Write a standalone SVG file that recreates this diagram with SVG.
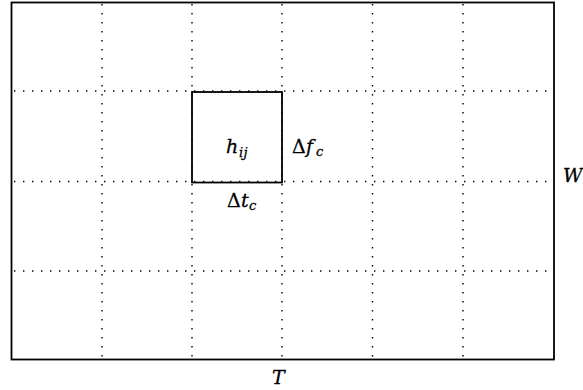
<svg xmlns="http://www.w3.org/2000/svg" width="583" height="390" viewBox="0 0 583 390">
<style>
.dot{stroke:#000;stroke-width:1.4;stroke-dasharray:1.4 7.6;fill:none}
.solid{stroke:#000;stroke-width:1.8;fill:none}
text{font-family:"DejaVu Serif","Liberation Serif",serif;font-size:19px;fill:#000;stroke:#000;stroke-width:0.3}
.it{font-style:italic}
.sub{font-size:13px;font-style:italic}
</style>
<rect width="583" height="390" fill="#fff"/>
<g id="grid">
<line class="dot" x1="102" y1="4" x2="102" y2="359"/>
<line class="dot" x1="192" y1="4" x2="192" y2="359"/>
<line class="dot" x1="282" y1="4" x2="282" y2="359"/>
<line class="dot" x1="372.5" y1="4" x2="372.5" y2="359"/>
<line class="dot" x1="463" y1="4" x2="463" y2="359"/>
<line class="dot" x1="14" y1="91" x2="554" y2="91"/>
<line class="dot" x1="14" y1="181.5" x2="554" y2="181.5"/>
<line class="dot" x1="14" y1="271" x2="554" y2="271"/>
</g>
<g id="frame">
<rect class="solid" x="11.5" y="2.5" width="542.5" height="357"/>
</g>
<g id="cell">
<rect class="solid" x="192" y="92" width="90" height="90.5"/>
<text x="226" y="153" class="it">h<tspan class="sub" x="239" y="157">i</tspan><tspan class="sub" x="243.5" y="157">j</tspan></text>
</g>
<g id="labels">
<text x="292" y="153">Δ<tspan class="it" x="306">f</tspan><tspan class="sub" x="316" y="156">c</tspan></text>
<text x="227" y="207">Δ<tspan class="it" x="241">t</tspan><tspan class="sub" x="249" y="210">c</tspan></text>
<text x="563" y="182" class="it">W</text>
<text x="272" y="384" class="it">T</text>
</g>
</svg>
